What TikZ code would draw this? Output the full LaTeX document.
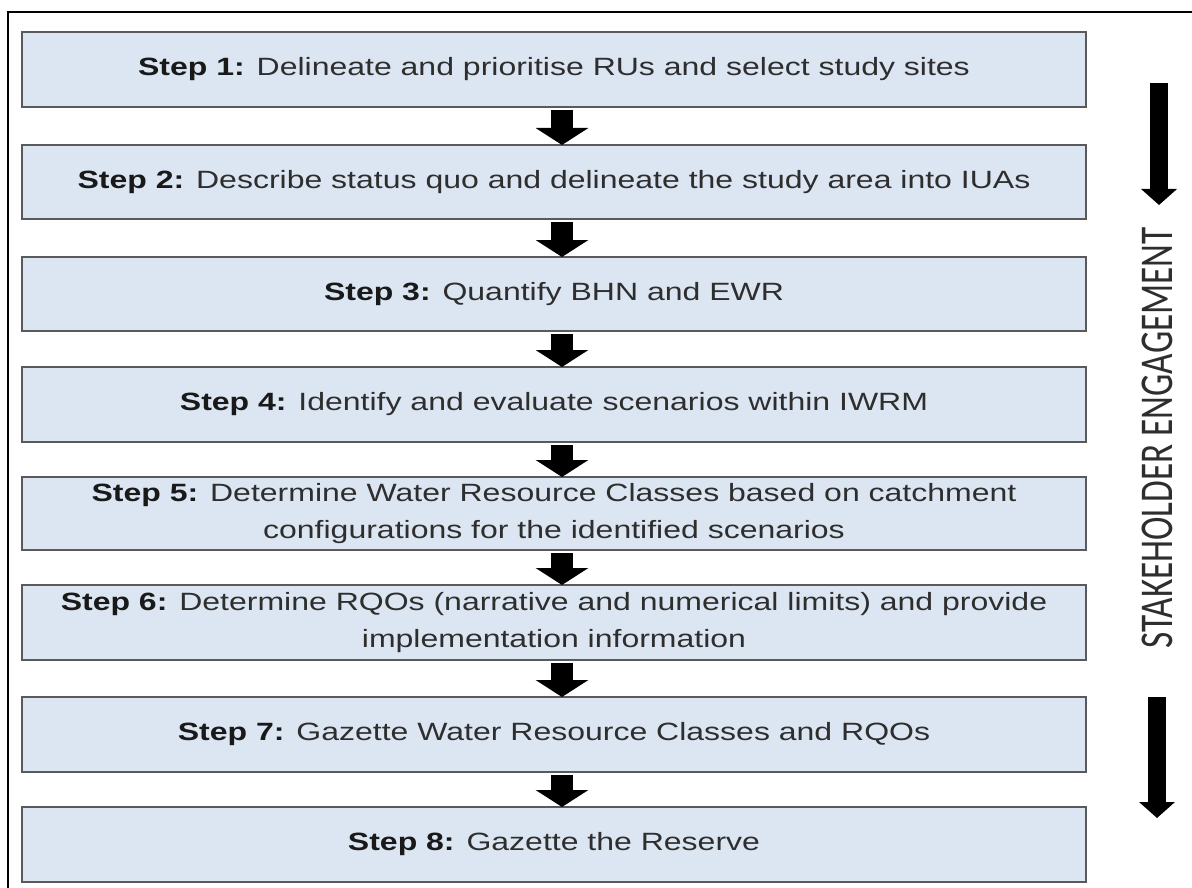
\documentclass[tikz,border=0pt]{standalone}
\usepackage{fontspec}
\setmainfont{Liberation Sans}
\newfontfamily\arialx[FakeStretch=1.28]{Liberation Sans}
\newfontfamily\calibrix[FakeStretch=0.75]{Carlito}
\usetikzlibrary{arrows.meta}
\definecolor{boxfill}{HTML}{DCE6F2}
\definecolor{boxline}{HTML}{5A5A5A}
\definecolor{txt}{HTML}{2E2E2E}
\tikzset{
  stepbox/.style={draw=boxline, line width=2.5pt, fill=boxfill, minimum width=1064pt,
    outer sep=0pt, inner sep=0pt, align=center, text=txt,
    font=\arialx\fontsize{25}{37}\selectfont},
  flowarrow/.style={line width=22pt, draw=black, shorten <=3pt,
    -{Triangle[width=52pt,length=17pt]}},
  bigarrow/.style={line width=18pt, draw=black,
    -{Triangle[width=35pt,length=16pt]}}
}
\newcommand{\stp}[1]{\textcolor{black!90}{\textbf{Step #1:}}}
\begin{document}
\begin{tikzpicture}[x=1pt,y=-1pt]
\useasboundingbox (0,0) rectangle (1192,888);
\fill[white] (0,0) rectangle (1192,888);
\draw[line width=2pt] (8,12) rectangle (1230,930);
\node[stepbox, minimum height=75pt] (s1) at (554,69.5) {\stp{1} Delineate and prioritise RUs and select study sites};
\node[stepbox, minimum height=74pt] (s2) at (554,182) {\stp{2} Describe status quo and delineate the study area into IUAs};
\node[stepbox, minimum height=74pt] (s3) at (554,294) {\stp{3} Quantify BHN and EWR};
\node[stepbox, minimum height=75pt] (s4) at (554,404.5) {\stp{4} Identify and evaluate scenarios within IWRM};
\node[stepbox, minimum height=73pt] (s5) at (554,513.5) {\stp{5} Determine Water Resource Classes based on catchment\\configurations for the identified scenarios};
\node[stepbox, minimum height=75pt] (s6) at (554,622.5) {\stp{6} Determine RQOs (narrative and numerical limits) and provide\\implementation information};
\node[stepbox, minimum height=75pt] (s7) at (554,734.5) {\stp{7} Gazette Water Resource Classes and RQOs};
\node[stepbox, minimum height=75pt] (s8) at (554,844.5) {\stp{8} Gazette the Reserve};
\foreach \a/\b in {s1/s2,s2/s3,s3/s4,s4/s5,s5/s6,s6/s7,s7/s8}
  \draw[flowarrow] (\a.south -| 562,0) -- (\b.north -| 562,0);
\coordinate (a1s) at (1159,83);
\coordinate (a1e) at (1159,205);
\coordinate (a2s) at (1157,697);
\coordinate (a2e) at (1157,818);
\draw[bigarrow] (a1s) -- (a1e);
\draw[bigarrow] (a2s) -- (a2e);
\node[rotate=90, font=\calibrix\fontsize{47}{47}\selectfont, text=txt] (se) at (1157,438) {STAKEHOLDER ENGAGEMENT};
\end{tikzpicture}
\end{document}
